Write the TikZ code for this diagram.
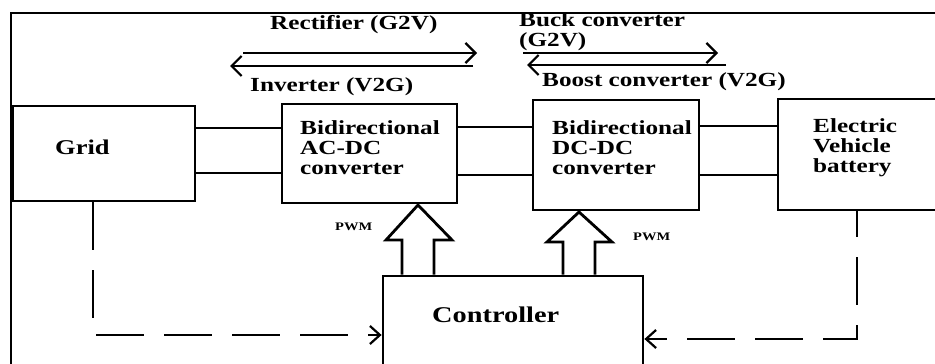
\documentclass[tikz,border=0pt]{standalone}
\usepackage{fontspec}
\setmainfont{Liberation Serif}[FakeStretch=1.26]
\usetikzlibrary{arrows.meta}

\begin{document}
\begin{tikzpicture}[x=1pt, y=-1pt,
    box/.style = {draw, line width=2.8pt, inner sep=0pt},
    txt/.style = {anchor=north west, inner sep=0pt, align=left, font=\bfseries\fontsize{20}{20}\selectfont},
    wire/.style = {line width=2pt},
    flow/.style = {line width=2.2pt, -{Straight Barb[length=10pt, width=20pt, line width=2.2pt]}},
    meas/.style = {line width=2.6pt, dash pattern=on 48pt off 20pt, -{Straight Barb[length=10pt, width=18pt, line width=2.2pt]}},
    blockarrow/.style = {line width=2.8pt, line join=miter}]
    \clip (0,0) rectangle (935,364);

    \draw[line width=2.4pt] (11,370) -- (11,13) -- (940,13);

    \node[box, minimum width=182pt, minimum height=95pt] (grid) at (104,153.5) {};
    \node[box, minimum width=175pt, minimum height=99pt] (acdc) at (369.5,153.5) {};
    \node[box, minimum width=166pt, minimum height=110pt] (dcdc) at (616,155) {};
    \node[box, minimum width=182pt, minimum height=111pt] (ev) at (869,154.5) {};
    \node[box, minimum width=260pt, minimum height=124pt] (ctrl) at (513,338) {};

    \node[txt, font=\bfseries\fontsize{21}{21}\selectfont] (gridtxt) at (55,140) {Grid};
    \node[txt] (acdctxt) at (300,120) {Bidirectional\\AC-DC\\converter};
    \node[txt] (dcdctxt) at (552,120) {Bidirectional\\DC-DC\\converter};
    \node[txt] (evtxt) at (813,118) {Electric\\Vehicle\\battery};
    \node[txt, font=\bfseries\fontsize{22.5}{22}\selectfont] (ctrltxt) at (432,307) {Controller};

    \draw[wire] ([yshift=25.5pt]grid.east) -- ([yshift=25.5pt]grid.east -| acdc.west);
    \draw[wire] ([yshift=-19.5pt]grid.east) -- ([yshift=-19.5pt]grid.east -| acdc.west);
    \draw[wire] ([yshift=26.5pt]acdc.east) -- ([yshift=26.5pt]acdc.east -| dcdc.west);
    \draw[wire] ([yshift=-21.5pt]acdc.east) -- ([yshift=-21.5pt]acdc.east -| dcdc.west);
    \draw[wire] ([yshift=29pt]dcdc.east) -- ([yshift=29pt]dcdc.east -| ev.west);
    \draw[wire] ([yshift=-20pt]dcdc.east) -- ([yshift=-20pt]dcdc.east -| ev.west);

    \coordinate (recS) at (243,53);
    \coordinate (recE) at (477,53);
    \coordinate (invS) at (473,66);
    \coordinate (invE) at (230,66);
    \coordinate (buckS) at (523,53);
    \coordinate (buckE) at (718,53);
    \coordinate (boostS) at (726,65);
    \coordinate (boostE) at (527,65);
    \draw[flow] (recS) -- (recE);
    \draw[flow] (invS) -- (invE);
    \draw[flow] (buckS) -- (buckE);
    \draw[flow] (boostS) -- (boostE);

    \node[txt] (rectxt) at (270,15) {Rectifier (G2V)};
    \node[txt] (invtxt) at (250,77) {Inverter (V2G)};
    \node[txt] (bucktxt) at (519,12) {Buck converter\\(G2V)};
    \node[txt] (boosttxt) at (542,72) {Boost converter (V2G)};

    \draw[blockarrow] (402,0 |- ctrl.north) -- (402,240) -- (386,240) -- (418,205)
        -- (452,240) -- (434,240) -- (434,0 |- ctrl.north);
    \draw[blockarrow] (563,0 |- ctrl.north) -- (563,242) -- (547,242) -- (579,212)
        -- (612,242) -- (595,242) -- (595,0 |- ctrl.north);
    \node[txt, font=\bfseries\fontsize{11.5}{11}\selectfont] (pwmA) at (335,223) {PWM};
    \node[txt, font=\bfseries\fontsize{11.5}{11}\selectfont] (pwmB) at (633,233) {PWM};

    \draw[meas] (grid.south -| 93,0) -- (93,335) -- (ctrl.west |- 93,335);
    \draw[meas, dash phase=22pt] (ev.south -| 857,0) -- (857,339) -- (ctrl.east |- 857,339);
\end{tikzpicture}
\end{document}
